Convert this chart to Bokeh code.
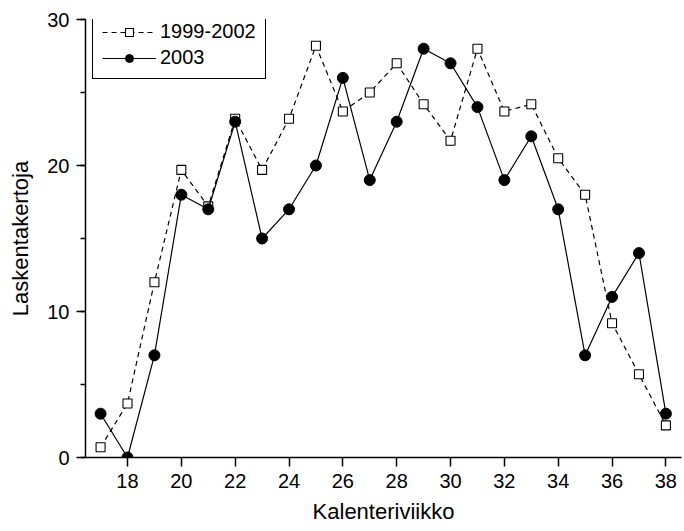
from bokeh.plotting import figure
from bokeh.models import SingleIntervalTicker, Legend, LegendItem, Range1d
from bokeh.embed import file_html
from bokeh.resources import INLINE

weeks = list(range(17, 39))
avg_1999_2002 = [0.7, 3.7, 12, 19.7, 17.2, 23.2, 19.7, 23.2, 28.2, 23.7, 25, 27,
                 24.2, 21.7, 28, 23.7, 24.2, 20.5, 18, 9.2, 5.7, 2.2]
y2003 = [3, 0, 7, 18, 17, 23, 15, 17, 20, 26, 19, 23, 28, 27, 24, 19, 22, 17,
         7, 11, 14, 3]
x_ticks_interval = 2
y_ticks_interval = 10

FONT = "Liberation Sans"

p = figure(width=684, height=531, output_backend="svg", toolbar_location=None,
           x_range=Range1d(16.44, 38.58), y_range=Range1d(0, 30),
           min_border_left=85, min_border_right=3, min_border_top=19,
           min_border_bottom=74)
p.outline_line_color = None
p.grid.visible = False
p.background_fill_color = "white"

l1 = p.line(weeks, avg_1999_2002, line_color="black", line_width=1.2, line_dash="5 4")
m1 = p.scatter(weeks, avg_1999_2002, marker="square", size=9, fill_color="white",
               line_color="black", line_width=1.1)
l2 = p.line(weeks, y2003, line_color="black", line_width=1.2)
m2 = p.scatter(weeks, y2003, marker="circle", size=11, fill_color="black",
               line_color="black")

p.xaxis.ticker = SingleIntervalTicker(interval=x_ticks_interval, num_minor_ticks=0)
p.yaxis.ticker = SingleIntervalTicker(interval=y_ticks_interval, num_minor_ticks=2)
p.xaxis.axis_label = "Kalenteriviikko"
p.yaxis.axis_label = "Laskentakertoja"
for ax in (p.xaxis[0], p.yaxis[0]):
    ax.axis_label_text_font = FONT
    ax.axis_label_text_font_size = "22px"
    ax.axis_label_text_font_style = "normal"
    ax.axis_label_text_color = "black"
    ax.major_label_text_font = FONT
    ax.major_label_text_font_size = "20px"
    ax.major_label_text_color = "black"
    ax.axis_line_color = "black"
    ax.major_tick_line_color = "black"
    ax.minor_tick_line_color = "black"
    ax.major_tick_out = 9
    ax.major_tick_in = 0
    ax.minor_tick_out = 5
    ax.minor_tick_in = 0
    ax.axis_line_width = 1.5
    ax.major_tick_line_width = 1.5
    ax.minor_tick_line_width = 1.5
    ax.major_label_standoff = 7
    ax.axis_label_standoff = 8
p.yaxis[0].axis_label_standoff = 11

legend = Legend(items=[LegendItem(label="1999-2002", renderers=[l1, m1]),
                       LegendItem(label="2003", renderers=[l2, m2])],
                location=(7, 378))
legend.label_text_font = FONT
legend.label_text_font_size = "20px"
legend.label_text_color = "black"
legend.glyph_width = 54
legend.glyph_height = 20
legend.spacing = 3
legend.padding = 9
legend.margin = 0
legend.label_standoff = 4
legend.border_line_color = "black"
legend.border_line_width = 1.3
legend.border_line_alpha = 1
legend.background_fill_alpha = 1
p.add_layout(legend)

open("out.html", "w").write(file_html(p, INLINE))
